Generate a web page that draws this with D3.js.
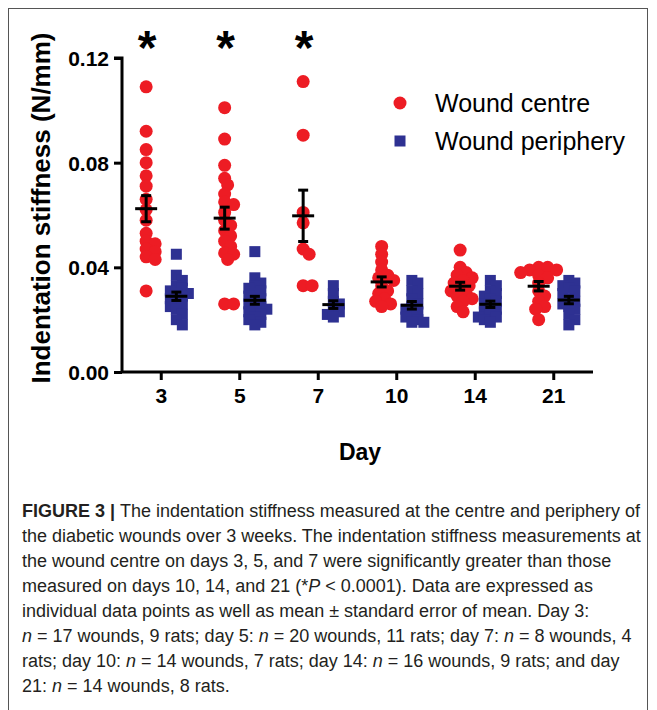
<!DOCTYPE html>
<html>
<head>
<meta charset="utf-8">
<script src="https://cdn.jsdelivr.net/npm/d3@7"></script>
<style>
  body { margin: 0; background: #fff; }
  svg { display: block; font-family: "Liberation Sans", Arial, Helvetica, sans-serif; }
</style>
</head>
<body>
<svg id="chart" width="657" height="710"></svg>
<script>
// values (N/mm)
const days = ["3", "5", "7", "10", "14", "21"];
const series = ["Wound centre", "Wound periphery"];
const significant = ["3", "5", "7"];
const yTicks = [0, 0.04, 0.08, 0.12];

const centre = [
  [0.109, 0.092, 0.085, 0.080, 0.075, 0.071, 0.066, 0.062, 0.058, 0.053, 0.050, 0.049, 0.047, 0.046, 0.044, 0.043, 0.031],
  [0.101, 0.089, 0.079, 0.074, 0.0715, 0.068, 0.065, 0.064, 0.061, 0.058, 0.056, 0.054, 0.052, 0.050, 0.048, 0.0455, 0.045, 0.043, 0.026, 0.026],
  [0.111, 0.0905, 0.061, 0.057, 0.047, 0.045, 0.033, 0.033],
  [0.048, 0.045, 0.042, 0.039, 0.037, 0.036, 0.035, 0.033, 0.031, 0.030, 0.028, 0.027, 0.026, 0.025],
  [0.0466, 0.040, 0.038, 0.037, 0.036, 0.035, 0.034, 0.033, 0.032, 0.031, 0.030, 0.029, 0.028, 0.027, 0.025, 0.023],
  [0.040, 0.040, 0.039, 0.039, 0.038, 0.037, 0.036, 0.034, 0.031, 0.029, 0.027, 0.025, 0.024, 0.020]
];
const periphery = [
  [0.045, 0.037, 0.035, 0.033, 0.032, 0.031, 0.030, 0.030, 0.029, 0.028, 0.027, 0.026, 0.025, 0.024, 0.022, 0.020, 0.018],
  [0.046, 0.036, 0.034, 0.033, 0.032, 0.031, 0.030, 0.029, 0.028, 0.027, 0.026, 0.025, 0.024, 0.024, 0.023, 0.022, 0.021, 0.020, 0.019, 0.018],
  [0.033, 0.030, 0.027, 0.026, 0.024, 0.023, 0.022, 0.021],
  [0.035, 0.034, 0.031, 0.030, 0.028, 0.026, 0.025, 0.024, 0.023, 0.022, 0.021, 0.020, 0.019, 0.019],
  [0.035, 0.033, 0.031, 0.030, 0.029, 0.028, 0.027, 0.026, 0.025, 0.024, 0.023, 0.022, 0.021, 0.021, 0.020, 0.019],
  [0.035, 0.034, 0.033, 0.032, 0.031, 0.030, 0.028, 0.027, 0.026, 0.025, 0.024, 0.022, 0.020, 0.018]
];

const colors = d3.scaleOrdinal().domain(series).range(["#ed1c24", "#2e3192"]);

const svg = d3.select("#chart");

// outer frame of the figure
svg.append("rect")
  .attr("x", 8.5).attr("y", 8.5)
  .attr("width", 639).attr("height", 720)
  .attr("fill", "none").attr("stroke", "#555").attr("stroke-width", 1);

const x = d3.scaleBand().domain(days).range([122, 593]);
const xInner = d3.scalePoint().domain(series).range([0, x.bandwidth()]).padding(0.8);
const y = d3.scaleLinear().domain([0, 0.12]).range([372, 58]);

// spread points sideways so they don't pile up on each other (GraphPad style)
function swarm(vals, cx, minDist, step) {
  const placed = [];
  vals.slice().sort(d3.descending).forEach((v) => {
    const py = y(v);
    let px = cx;
    for (let k = 0; k < 60; k++) {
      const off = k === 0 ? 0 : (k % 2 ? 1 : -1) * Math.ceil(k / 2) * step;
      if (placed.every((p) => Math.hypot(p.x - (cx + off), p.y - py) >= minDist)) {
        px = cx + off;
        break;
      }
    }
    placed.push({ x: px, y: py, v });
  });
  return placed;
}

const plot = svg.append("g");

days.forEach((day, i) => {
  const cxC = x(day) + xInner(series[0]);
  const cxP = x(day) + xInner(series[1]);

  plot.append("g").selectAll("circle")
    .data(swarm(centre[i], cxC, 7, 3))
    .join("circle")
    .attr("cx", (d) => d.x).attr("cy", (d) => d.y)
    .attr("r", 6.5)
    .attr("fill", colors(series[0]));

  plot.append("g").selectAll("rect")
    .data(swarm(periphery[i], cxP, 6.5, 3))
    .join("rect")
    .attr("x", (d) => d.x - 5.5).attr("y", (d) => d.y - 5.5)
    .attr("width", 11).attr("height", 11)
    .attr("fill", colors(series[1]));
});

// mean +/- SEM
days.forEach((day, i) => {
  [[centre[i], series[0]], [periphery[i], series[1]]].forEach(([vals, s]) => {
    const cx = x(day) + xInner(s);
    const m = d3.mean(vals);
    const sem = d3.deviation(vals) / Math.sqrt(vals.length);
    const g = plot.append("g").attr("stroke", "#000").attr("stroke-width", 3);
    g.append("line").attr("x1", cx).attr("x2", cx).attr("y1", y(m - sem)).attr("y2", y(m + sem));
    g.append("line").attr("x1", cx - 5).attr("x2", cx + 5).attr("y1", y(m + sem)).attr("y2", y(m + sem));
    g.append("line").attr("x1", cx - 5).attr("x2", cx + 5).attr("y1", y(m - sem)).attr("y2", y(m - sem));
    g.append("line").attr("x1", cx - 11).attr("x2", cx + 11).attr("y1", y(m)).attr("y2", y(m));
  });
});

// significance marks
svg.append("g").selectAll("text")
  .data(significant)
  .join("text")
  .attr("x", (d) => x(d) + xInner(series[0]) + 1)
  .attr("y", 64)
  .attr("text-anchor", "middle")
  .style("font-size", "48px")
  .style("font-weight", "bold")
  .text("*");

// axes
const yAxis = svg.append("g")
  .attr("transform", "translate(122,0)")
  .call(d3.axisLeft(y).tickValues(yTicks).tickFormat(d3.format(".2f")).tickSize(8).tickPadding(5));
const xAxis = svg.append("g")
  .attr("transform", "translate(0,372)")
  .call(d3.axisBottom(x).tickSize(8).tickPadding(8));

[yAxis, xAxis].forEach((ax) => {
  ax.select(".domain").attr("stroke-width", 3).attr("stroke", "#000");
  ax.selectAll(".tick line").attr("stroke-width", 3).attr("stroke", "#000");
  ax.selectAll(".tick text")
    .attr("fill", "#000")
    .style("font-size", "21px")
    .style("font-weight", "bold")
    .style("font-family", "'Liberation Sans', Arial, sans-serif");
});
yAxis.selectAll(".tick text").attr("dy", "0.36em");
yAxis.select(".domain").attr("d", "M-8," + y(0.12) + "H0V" + y(0));
xAxis.select(".domain").attr("d", "M122,0H593");

svg.append("text")
  .attr("transform", "translate(50,208) rotate(-90)")
  .attr("text-anchor", "middle")
  .style("font-size", "26px")
  .style("font-weight", "bold")
  .text("Indentation stiffness (N/mm)");

svg.append("text")
  .attr("x", 360).attr("y", 460)
  .attr("text-anchor", "middle")
  .style("font-size", "23px")
  .style("font-weight", "bold")
  .text("Day");

// legend
const legend = svg.append("g").attr("transform", "translate(400,103)");
series.forEach((s, i) => {
  const row = legend.append("g").attr("transform", `translate(0,${i * 38})`);
  if (i === 0) {
    row.append("circle").attr("r", 6.5).attr("fill", colors(s));
  } else {
    row.append("rect").attr("x", -5.5).attr("y", -5.5).attr("width", 11).attr("height", 11).attr("fill", colors(s));
  }
  row.append("text")
    .attr("x", 35).attr("y", 9)
    .style("font-size", "25px")
    .text(s);
});

// caption
const caption = [
  [["b", "FIGURE 3 | "], ["", "The indentation stiffness measured at the centre and periphery of"]],
  [["", "the diabetic wounds over 3 weeks. The indentation stiffness measurements at"]],
  [["", "the wound centre on days 3, 5, and 7 were significantly greater than those"]],
  [["", "measured on days 10, 14, and 21 (*"], ["i", "P"], ["", " < 0.0001). Data are expressed as"]],
  [["", "individual data points as well as mean \u00b1 standard error of mean. Day 3:"]],
  [["i", "n"], ["", " = 17 wounds, 9 rats; day 5: "], ["i", "n"], ["", " = 20 wounds, 11 rats; day 7: "], ["i", "n"], ["", " = 8 wounds, 4"]],
  [["", "rats; day 10: "], ["i", "n"], ["", " = 14 wounds, 7 rats; day 14: "], ["i", "n"], ["", " = 16 wounds, 9 rats; and day"]],
  [["", "21: "], ["i", "n"], ["", " = 14 wounds, 8 rats."]]
];
const cap = svg.append("g").style("font-size", "18px").attr("fill", "#231f20");
caption.forEach((line, i) => {
  const t = cap.append("text").attr("x", 22).attr("y", 517 + i * 25);
  line.forEach(([st, str]) => {
    const ts = t.append("tspan").text(str);
    if (st === "b") ts.style("font-weight", "bold");
    if (st === "i") ts.style("font-style", "italic");
  });
});
</script>
</body>
</html>
